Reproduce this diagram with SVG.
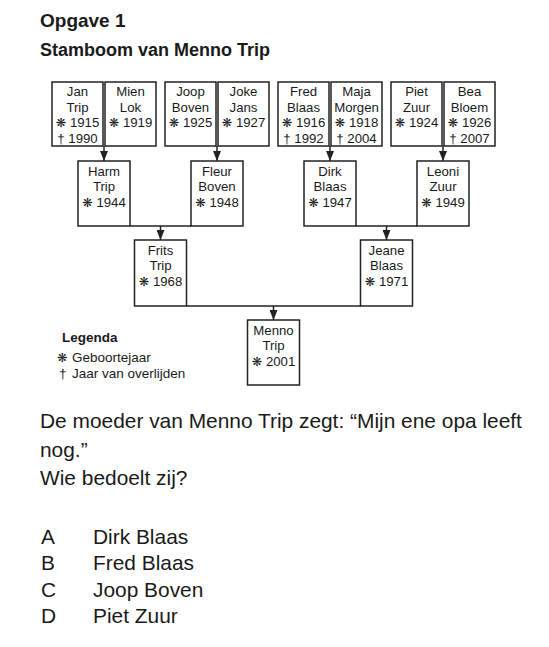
<svg xmlns="http://www.w3.org/2000/svg" width="549" height="647" viewBox="0 0 549 647">
<style>
.box{fill:#fff;stroke:#222;stroke-width:1.5}
.t{font-family:"Liberation Sans",Arial,"DejaVu Sans",sans-serif;font-size:13.2px;fill:#1a1a1a;text-anchor:middle}
.s{font-family:"DejaVu Sans",sans-serif;font-size:12.5px}
.ln{stroke:#222;stroke-width:1.5;fill:none}
.h{font-family:"Liberation Sans",Arial,sans-serif;font-weight:bold;fill:#1a1a1a}
.q{font-family:"Liberation Sans",Arial,sans-serif;font-size:20.9px;fill:#1a1a1a}
.lg{font-family:"Liberation Sans",Arial,"DejaVu Sans",sans-serif;font-size:13.5px;fill:#1a1a1a}
</style>
<defs>
<marker id="arr" viewBox="0 0 10 8" refX="10" refY="4" markerWidth="10" markerHeight="8" markerUnits="userSpaceOnUse" orient="auto">
<path d="M0,0 L10,4 L0,8 z" fill="#222"/>
</marker>
</defs>
<rect width="549" height="647" fill="#fff"/>
<text class="h" x="40" y="27" font-size="19">Opgave 1</text>
<text class="h" x="40" y="56" font-size="18">Stamboom van Menno Trip</text>

<g id="connectors">
<path class="ln" d="M104,146 V161" marker-end="url(#arr)"/>
<path class="ln" d="M217,146 V161" marker-end="url(#arr)"/>
<path class="ln" d="M330,146 V161" marker-end="url(#arr)"/>
<path class="ln" d="M443,146 V161" marker-end="url(#arr)"/>
<path class="ln" d="M130,226 H191"/>
<path class="ln" d="M160.5,226 V240" marker-end="url(#arr)"/>
<path class="ln" d="M356,226 H417"/>
<path class="ln" d="M386.5,226 V240" marker-end="url(#arr)"/>
<path class="ln" d="M186.5,306 H360.5"/>
<path class="ln" d="M273.5,306 V320" marker-end="url(#arr)"/>
</g>

<g id="jan"><rect class="box" x="52" y="82" width="51" height="64"/>
<text class="t" x="77.5" y="96">Jan</text><text class="t" x="77.5" y="111.5">Trip</text><text class="t" x="77.5" y="127"><tspan class="s">❋</tspan> 1915</text><text class="t" x="77.5" y="142.5">† 1990</text></g>
<g id="mien"><rect class="box" x="105" y="82" width="51" height="64"/>
<text class="t" x="130.5" y="96">Mien</text><text class="t" x="130.5" y="111.5">Lok</text><text class="t" x="130.5" y="127"><tspan class="s">❋</tspan> 1919</text></g>
<g id="joop"><rect class="box" x="165" y="82" width="51" height="64"/>
<text class="t" x="190.5" y="96">Joop</text><text class="t" x="190.5" y="111.5">Boven</text><text class="t" x="190.5" y="127"><tspan class="s">❋</tspan> 1925</text></g>
<g id="joke"><rect class="box" x="218" y="82" width="51" height="64"/>
<text class="t" x="243.5" y="96">Joke</text><text class="t" x="243.5" y="111.5">Jans</text><text class="t" x="243.5" y="127"><tspan class="s">❋</tspan> 1927</text></g>
<g id="fred"><rect class="box" x="278" y="82" width="51" height="64"/>
<text class="t" x="303.5" y="96">Fred</text><text class="t" x="303.5" y="111.5">Blaas</text><text class="t" x="303.5" y="127"><tspan class="s">❋</tspan> 1916</text><text class="t" x="303.5" y="142.5">† 1992</text></g>
<g id="maja"><rect class="box" x="331" y="82" width="51" height="64"/>
<text class="t" x="356.5" y="96">Maja</text><text class="t" x="356.5" y="111.5">Morgen</text><text class="t" x="356.5" y="127"><tspan class="s">❋</tspan> 1918</text><text class="t" x="356.5" y="142.5">† 2004</text></g>
<g id="piet"><rect class="box" x="391" y="82" width="51" height="64"/>
<text class="t" x="416.5" y="96">Piet</text><text class="t" x="416.5" y="111.5">Zuur</text><text class="t" x="416.5" y="127"><tspan class="s">❋</tspan> 1924</text></g>
<g id="bea"><rect class="box" x="444" y="82" width="51" height="64"/>
<text class="t" x="469.5" y="96">Bea</text><text class="t" x="469.5" y="111.5">Bloem</text><text class="t" x="469.5" y="127"><tspan class="s">❋</tspan> 1926</text><text class="t" x="469.5" y="142.5">† 2007</text></g>

<g id="harm"><rect class="box" x="78" y="161" width="52" height="65"/>
<text class="t" x="104" y="175.5">Harm</text><text class="t" x="104" y="191">Trip</text><text class="t" x="104" y="206.5"><tspan class="s">❋</tspan> 1944</text></g>
<g id="fleur"><rect class="box" x="191" y="161" width="52" height="65"/>
<text class="t" x="217" y="175.5">Fleur</text><text class="t" x="217" y="191">Boven</text><text class="t" x="217" y="206.5"><tspan class="s">❋</tspan> 1948</text></g>
<g id="dirk"><rect class="box" x="304" y="161" width="52" height="65"/>
<text class="t" x="330" y="175.5">Dirk</text><text class="t" x="330" y="191">Blaas</text><text class="t" x="330" y="206.5"><tspan class="s">❋</tspan> 1947</text></g>
<g id="leoni"><rect class="box" x="417" y="161" width="52" height="65"/>
<text class="t" x="443" y="175.5">Leoni</text><text class="t" x="443" y="191">Zuur</text><text class="t" x="443" y="206.5"><tspan class="s">❋</tspan> 1949</text></g>

<g id="frits"><rect class="box" x="134.5" y="240" width="52" height="66"/>
<text class="t" x="160.5" y="254.5">Frits</text><text class="t" x="160.5" y="270">Trip</text><text class="t" x="160.5" y="285.5"><tspan class="s">❋</tspan> 1968</text></g>
<g id="jeane"><rect class="box" x="360.5" y="240" width="52" height="66"/>
<text class="t" x="386.5" y="254.5">Jeane</text><text class="t" x="386.5" y="270">Blaas</text><text class="t" x="386.5" y="285.5"><tspan class="s">❋</tspan> 1971</text></g>

<g id="menno"><rect class="box" x="247.5" y="320" width="52" height="65"/>
<text class="t" x="273.5" y="334.5">Menno</text><text class="t" x="273.5" y="350">Trip</text><text class="t" x="273.5" y="365.5"><tspan class="s">❋</tspan> 2001</text></g>

<g id="legenda">
<text class="lg" x="62" y="342" font-weight="bold">Legenda</text>
<text class="lg" x="57" y="362"><tspan class="s">❋</tspan></text><text class="lg" x="72" y="362">Geboortejaar</text>
<text class="lg" x="59" y="378">†</text><text class="lg" x="72" y="378">Jaar van overlijden</text>
</g>

<text class="q" x="40" y="428">De moeder van Menno Trip zegt: “Mijn ene opa leeft</text>
<text class="q" x="40" y="457">nog.”</text>
<text class="q" x="40" y="485">Wie bedoelt zij?</text>

<text class="q" x="41" y="544">A</text><text class="q" x="93" y="544">Dirk Blaas</text>
<text class="q" x="41" y="570">B</text><text class="q" x="93" y="570">Fred Blaas</text>
<text class="q" x="41" y="597">C</text><text class="q" x="93" y="597">Joop Boven</text>
<text class="q" x="41" y="623">D</text><text class="q" x="93" y="623">Piet Zuur</text>
</svg>
